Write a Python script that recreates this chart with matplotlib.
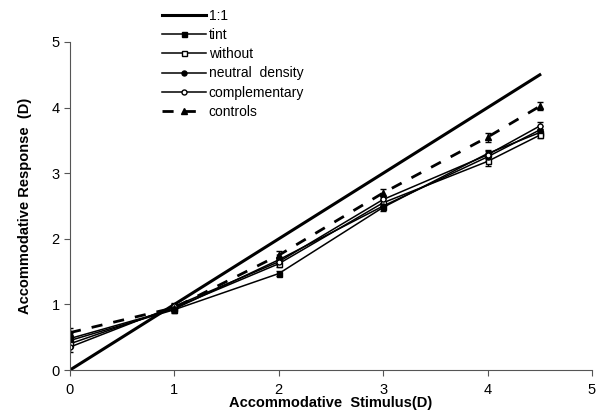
import matplotlib
matplotlib.use("Agg")
import matplotlib.pyplot as plt
from matplotlib.lines import Line2D

plt.rcParams['font.family'] = ['Liberation Sans', 'DejaVu Sans']

x = [0, 1, 2, 3, 4, 4.5]
identity_x = [0, 4.5]
identity_y = [0, 4.5]
tint = [0.45, 0.92, 1.47, 2.48, 3.30, 3.62]
without = [0.40, 0.95, 1.62, 2.55, 3.18, 3.58]
neutral = [0.48, 0.93, 1.68, 2.50, 3.25, 3.66]
complementary = [0.35, 0.97, 1.65, 2.60, 3.28, 3.72]
controls = [0.57, 0.95, 1.75, 2.70, 3.55, 4.02]
err_tint = [0.07, 0.05, 0.04, 0.05, 0.06, 0.05]
err_without = [0.07, 0.05, 0.05, 0.05, 0.07, 0.05]
err_neutral = [0.08, 0.05, 0.05, 0.05, 0.06, 0.06]
err_comp = [0.08, 0.05, 0.05, 0.05, 0.06, 0.06]
err_controls = [0.07, 0.05, 0.06, 0.06, 0.07, 0.06]
labels = ['1:1', 'tint', 'without', 'neutral  density', 'complementary', 'controls']

fig = plt.figure(figsize=(6.0, 4.17), dpi=100)
ax = fig.add_axes([70/600, 1-370/417, 522/600, 328/417])

ax.plot(identity_x, identity_y, color='black', lw=2.2)
common = dict(color='black', lw=1.1, ms=3.6, capsize=2, elinewidth=1, capthick=1)
ax.errorbar(x, tint, yerr=err_tint, marker='s', mfc='black', **common)
ax.errorbar(x, without, yerr=err_without, marker='s', mfc='white', **common)
ax.errorbar(x, neutral, yerr=err_neutral, marker='o', mfc='black', **common)
ax.errorbar(x, complementary, yerr=err_comp, marker='o', mfc='white', **common)
ax.errorbar(x, controls, yerr=err_controls, marker='^', mfc='black', ls=(0, (4, 4)),
            color='black', lw=2, ms=5, capsize=2, elinewidth=1, capthick=1)

ax.set_xlim(0, 5)
ax.set_ylim(0, 5)
ax.set_xticks([0, 1, 2, 3, 4, 5])
ax.set_yticks([0, 1, 2, 3, 4, 5])
ax.spines['top'].set_visible(False)
ax.spines['right'].set_visible(False)
for s in ('left', 'bottom'):
    ax.spines[s].set_color('#555555')
ax.tick_params(direction='out', length=4, colors='#555555', labelcolor='black', labelsize=10.5)
ax.tick_params(axis='x', pad=5)
ax.set_xlabel('Accommodative  Stimulus(D)', fontsize=10.5, fontweight='bold', labelpad=0)
ax.set_ylabel('Accommodative Response  (D)', fontsize=10.5, fontweight='bold', labelpad=14)

handles = [
    Line2D([], [], color='black', lw=2.2),
    Line2D([], [], color='black', lw=1.1, marker='s', ms=3.6, mfc='black'),
    Line2D([], [], color='black', lw=1.1, marker='s', ms=3.6, mfc='white'),
    Line2D([], [], color='black', lw=1.1, marker='o', ms=3.6, mfc='black'),
    Line2D([], [], color='black', lw=1.1, marker='o', ms=3.6, mfc='white'),
    Line2D([], [], color='black', lw=2, ls=(0, (4, 4)), marker='^', ms=5, mfc='black'),
]
leg = fig.legend(handles, labels, loc='upper left', bbox_to_anchor=(156/600, 1-3/417),
                 frameon=False, fontsize=10, handlelength=3.2, handletextpad=0.2,
                 labelspacing=0.38, borderaxespad=0)

fig.savefig('out.png', dpi=100)
